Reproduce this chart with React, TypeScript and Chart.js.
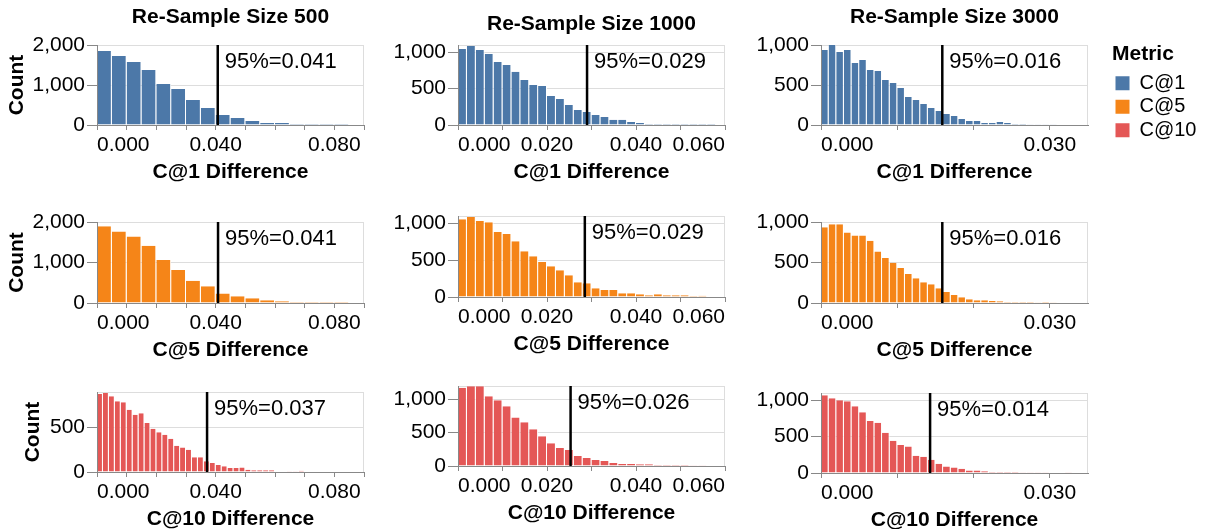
import React, { useEffect, useRef } from "react";
import { Chart, registerables } from "chart.js";

Chart.register(...registerables);
Chart.defaults.font.family = "'Liberation Sans', Arial, Helvetica, sans-serif";
Chart.defaults.color = "#000";

// ---------------- data ----------------
const metrics = ["C@1", "C@5", "C@10"];
const metricColors = ["#4c78a8", "#f58518", "#e45756"];
const columnTitles = ["Re-Sample Size 500", "Re-Sample Size 1000", "Re-Sample Size 3000"];

// bin widths (rows = metric, cols = sample size)
const binWidthsC1 = [0.005, 0.002, 0.001];
const binWidthsC5 = [0.005, 0.002, 0.001];
const binWidthsC10 = [0.002, 0.002, 0.001];

// x domain max per column
const xMaxes = [0.09, 0.06, 0.035];

// x ticks per column
const xTicks500 = [0, 0.01, 0.02, 0.03, 0.04, 0.05, 0.06, 0.07, 0.08, 0.09];
const xTickLabels500 = ["0.000", "", "", "", "0.040", "", "", "", "0.080", ""];
const xTicks1000 = [0, 0.01, 0.02, 0.03, 0.04, 0.05, 0.06];
const xTickLabels1000 = ["0.000", "", "0.020", "", "0.040", "", "0.060"];
const xTicks3000 = [0, 0.01, 0.02, 0.03, 0.035];
const xTickLabels3000 = ["0.000", "", "", "0.030", ""];

// counts per bin
const countsC1_500 = [1850, 1725, 1575, 1375, 1025, 900, 625, 425, 250, 175, 100, 50, 50, 25, 25, 25, 25, 0];
const countsC1_1000 = [1045, 1086, 1031, 976, 866, 825, 733, 619, 550, 536, 399, 357, 275, 206, 179, 137, 110, 73, 73, 41, 27, 14, 14, 14, 14, 14, 14, 14, 14, 0];
const countsC1_3000 = [937, 1000, 912, 937, 775, 812, 687, 675, 562, 525, 462, 350, 312, 262, 212, 175, 137, 112, 75, 50, 50, 25, 25, 37, 25, 12, 12, 8, 8, 4, 8, 0, 0, 0, 0];

const countsC5_500 = [1892, 1768, 1643, 1411, 1062, 813, 548, 415, 232, 166, 116, 66, 41, 25, 25, 25, 25, 0];
const countsC5_1000 = [1055, 1086, 1032, 1014, 883, 856, 756, 620, 552, 475, 416, 362, 294, 199, 186, 118, 95, 95, 50, 50, 36, 23, 36, 23, 23, 23, 14, 18, 0, 0];
const countsC5_3000 = [934, 971, 971, 871, 834, 834, 768, 635, 556, 498, 432, 357, 307, 257, 232, 183, 137, 100, 71, 46, 33, 33, 25, 21, 12, 12, 12, 12, 8, 12, 8, 0, 0, 0, 0];

const countsC10_500 = [877, 889, 851, 795, 784, 701, 645, 660, 551, 487, 446, 420, 375, 296, 277, 251, 165, 165, 120, 101, 79, 64, 45, 45, 52, 26, 19, 19, 19, 19, 7, 7, 4, 4, 15, 0, 0, 0, 0, 0, 0, 0, 0, 0, 0];
const countsC10_1000 = [1174, 1195, 1195, 1045, 985, 896, 726, 657, 552, 448, 343, 269, 239, 149, 119, 90, 75, 45, 30, 30, 25, 25, 15, 15, 15, 15, 10, 10, 0, 0];
const countsC10_3000 = [1068, 1027, 1000, 986, 918, 836, 714, 691, 555, 445, 386, 364, 236, 223, 182, 127, 91, 77, 59, 36, 36, 23, 14, 14, 14, 14, 9, 9, 9, 5, 0, 0, 9, 0, 0];

// 95th percentile positions and their labels
const quantilesC1 = [0.0407, 0.029, 0.0159];
const quantilesC5 = [0.0408, 0.0285, 0.0159];
const quantilesC10 = [0.0371, 0.0253, 0.0143];
const quantileLabelsC1 = ["95%=0.041", "95%=0.029", "95%=0.016"];
const quantileLabelsC5 = ["95%=0.041", "95%=0.029", "95%=0.016"];
const quantileLabelsC10 = ["95%=0.037", "95%=0.026", "95%=0.014"];

// y axes
const yMaxesC1 = [2000, 1100, 1000];
const yMaxesC5 = [2000, 1100, 1000];
const yMaxesC10 = [900, 1200, 1100];
const yTicksC1 = [[0, 1000, 2000], [0, 500, 1000], [0, 500, 1000]];
const yTicksC5 = [[0, 1000, 2000], [0, 500, 1000], [0, 500, 1000]];
const yTicksC10 = [[0, 500], [0, 500, 1000], [0, 500, 1000]];

// assembled tables
const panelCounts = [
  [countsC1_500, countsC1_1000, countsC1_3000],
  [countsC5_500, countsC5_1000, countsC5_3000],
  [countsC10_500, countsC10_1000, countsC10_3000],
];
const binWidths = [binWidthsC1, binWidthsC5, binWidthsC10];
const quantiles = [quantilesC1, quantilesC5, quantilesC10];
const quantileLabels = [quantileLabelsC1, quantileLabelsC5, quantileLabelsC10];
const yMaxes = [yMaxesC1, yMaxesC5, yMaxesC10];
const yTicks = [yTicksC1, yTicksC5, yTicksC10];
const xTicks = [xTicks500, xTicks1000, xTicks3000];
const xTickLabels = [xTickLabels500, xTickLabels1000, xTickLabels3000];

// ---------------- layout ----------------
const plotLefts = [97, 458, 821];
const plotWidth = 267;
const plotTops = [
  [45, 45, 45],
  [222, 216, 222],
  [392, 386, 393],
];
const plotHeights = [
  [80, 80, 80],
  [81, 81, 81],
  [80, 80, 80],
];
const canvasLefts = [0, 380, 740];
const canvasWidths = [380, 360, 360];
const titleYs = [17.5, 24.5, 17.5];
const countTitlePad = [4.5, 5, 21];
const X_AXIS_H = 60;

const decorPlugin = {
  id: "decor",
  beforeDatasetsDraw(chart: any) {
    const { ctx, chartArea: a } = chart;
    ctx.save();
    ctx.strokeStyle = "#ddd";
    ctx.lineWidth = 1;
    ctx.beginPath();
    ctx.moveTo(a.left, Math.round(a.top) + 0.5);
    ctx.lineTo(a.right, Math.round(a.top) + 0.5);
    ctx.moveTo(Math.round(a.right) - 0.5, a.top);
    ctx.lineTo(Math.round(a.right) - 0.5, a.bottom);
    ctx.stroke();
    ctx.restore();
  },
  afterDatasetsDraw(chart: any, _args: any, opts: any) {
    const { ctx, chartArea: a, scales } = chart;
    const x = scales.x.getPixelForValue(opts.q);
    ctx.save();
    ctx.strokeStyle = "#000";
    ctx.lineWidth = 2.5;
    ctx.beginPath();
    ctx.moveTo(x, a.top);
    ctx.lineTo(x, a.bottom);
    ctx.stroke();
    ctx.fillStyle = "#000";
    ctx.font = "22px 'Liberation Sans', Arial, sans-serif";
    ctx.textBaseline = "middle";
    ctx.textAlign = "left";
    ctx.fillText(opts.qLabel, x + 7, a.top + 17);
    if (opts.title) {
      ctx.font = "bold 21px 'Liberation Sans', Arial, sans-serif";
      ctx.textAlign = "center";
      ctx.fillText(opts.title, (a.left + a.right) / 2, opts.titleY);
    }
    ctx.restore();
  },
};

function Panel({ r, c }: { r: number; c: number }) {
  const ref = useRef<HTMLCanvasElement>(null);
  const left = canvasLefts[c];
  const width = canvasWidths[c];
  const pTop = plotTops[r][c];
  const pH = plotHeights[r][c];
  const top = r === 0 ? 0 : pTop - 30;
  const height = pTop + pH + X_AXIS_H - top;

  useEffect(() => {
    const counts = panelCounts[r][c];
    const bw = binWidths[r][c];
    const data = counts.map((v, i) => ({ x: (i + 0.5) * bw, y: v }));
    const yAxisW = plotLefts[c] - left;
    const padR = left + width - (plotLefts[c] + plotWidth);
    const xMax = xMaxes[c];
    const chart = new Chart(ref.current as HTMLCanvasElement, {
      type: "bar",
      data: {
        datasets: [
          {
            data,
            backgroundColor: metricColors[r],
            borderColor: "#ffffff",
            borderWidth: { top: 0, left: 0, bottom: 0, right: 1 },
            barPercentage: 1,
            categoryPercentage: 1,
            inflateAmount: 0,
          } as any,
        ],
      },
      options: {
        responsive: false,
        animation: false,
        events: [],
        layout: { padding: { left: 0, top: pTop - top, right: padR, bottom: 0 } },
        plugins: {
          legend: { display: false },
          tooltip: { enabled: false },
          decor: {
            q: quantiles[r][c],
            qLabel: quantileLabels[r][c],
            title: r === 0 ? columnTitles[c] : "",
            titleY: titleYs[c],
          },
        } as any,
        scales: {
          x: {
            type: "linear",
            min: 0,
            max: xMax,
            offset: false,
            afterBuildTicks: (s: any) => {
              s.ticks = xTicks[c].map((v) => ({ value: v }));
            },
            afterFit: (s: any) => {
              s.height = X_AXIS_H;
            },
            grid: {
              display: true,
              offset: false,
              drawOnChartArea: false,
              drawTicks: true,
              tickLength: 5,
              tickColor: (ctx: any) =>
                ctx.tick && Math.abs(ctx.tick.value - xMax) < 1e-9 && c === 2 ? "rgba(0,0,0,0)" : "#888",
            },
            border: { display: true, color: "#888", width: 1, z: 1 },
            ticks: {
              autoSkip: false,
              maxRotation: 0,
              minRotation: 0,
              align: "inner",
              padding: 3,
              font: { size: 21 },
              color: "#000",
              callback: (_v: any, i: number) => xTickLabels[c][i],
            },
            title: {
              display: true,
              text: metrics[r] + " Difference",
              font: { size: 21, weight: "bold" },
              color: "#000",
              padding: { top: 0, bottom: X_AXIS_H - 47 - 12.6 },
            },
          } as any,
          y: {
            type: "linear",
            min: 0,
            max: yMaxes[r][c],
            afterBuildTicks: (s: any) => {
              s.ticks = yTicks[r][c].map((v) => ({ value: v }));
            },
            afterFit: (s: any) => {
              s.width = yAxisW;
            },
            grid: { color: "#ddd", drawTicks: true, tickLength: 10, tickColor: "#888" },
            border: { display: true, color: "#888", width: 1, z: 1 },
            ticks: {
              padding: 2,
              font: { size: 21 },
              color: "#000",
              callback: (v: any) => Number(v).toLocaleString("en-US"),
            },
            title: {
              display: c === 0,
              text: "Count",
              font: { size: 21, weight: "bold" },
              color: "#000",
              padding: { top: countTitlePad[r], bottom: 0 },
            },
          } as any,
        },
      },
      plugins: [decorPlugin as any],
    });
    return () => chart.destroy();
  }, [r, c]);

  return (
    <canvas
      ref={ref}
      width={width}
      height={height}
      style={{ position: "absolute", left, top, width, height }}
    />
  );
}

function Legend() {
  const ref = useRef<HTMLCanvasElement>(null);
  useEffect(() => {
    const chart = new Chart(ref.current as HTMLCanvasElement, {
      type: "bar",
      data: {
        labels: [],
        datasets: metrics.map((m, i) => ({
          label: m,
          data: [],
          backgroundColor: metricColors[i],
          borderWidth: 0,
        })),
      },
      options: {
        responsive: false,
        animation: false,
        events: [],
        layout: { padding: { left: 12, top: 43.5 } },
        scales: { x: { display: false }, y: { display: false } },
        plugins: {
          tooltip: { enabled: false },
          legend: {
            position: "left",
            align: "start",
            maxWidth: 200,
            title: {
              display: true,
              text: "Metric",
              position: "start",
              color: "#000",
              font: { size: 21, weight: "bold" },
              padding: { top: 0, bottom: 1 },
            },
            labels: {
              boxWidth: 14,
              boxHeight: 14,
              padding: 3.5,
              color: "#000",
              font: { size: 20 },
            },
          },
        } as any,
      },
    });
    return () => chart.destroy();
  }, []);
  return (
    <canvas
      ref={ref}
      width={110}
      height={170}
      style={{ position: "absolute", left: 1100, top: 0, width: 110, height: 170 }}
    />
  );
}

export default function App() {
  const panels = [];
  for (let r = 0; r < 3; r++) {
    for (let c = 0; c < 3; c++) {
      panels.push(<Panel key={`${r}-${c}`} r={r} c={c} />);
    }
  }
  return (
    <div
      style={{
        position: "fixed",
        left: 0,
        top: 0,
        width: 1210,
        height: 529,
        overflow: "hidden",
        background: "#fff",
      }}
    >
      {panels}
      <Legend />
    </div>
  );
}
